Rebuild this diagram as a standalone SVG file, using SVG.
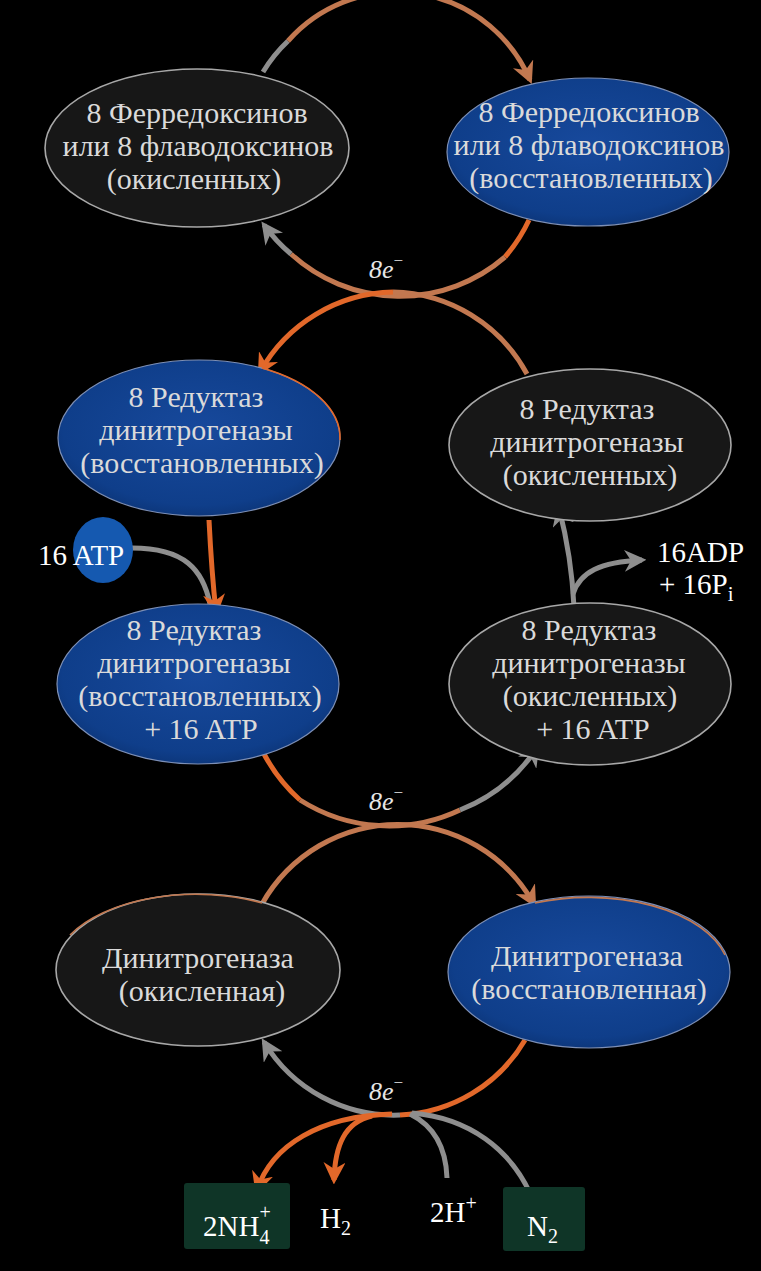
<svg xmlns="http://www.w3.org/2000/svg" width="761" height="1271" viewBox="0 0 761 1271">
<style>
.ell-dark{fill:#171717;stroke:#a8a8a8;stroke-width:1.6}
.ell-blue{fill:url(#blueG);stroke:#7d8fb5;stroke-width:1.2}
text{font-family:Liberation Serif,Times New Roman,DejaVu Serif,serif}
.t{font-size:30px;fill:#dadada;text-anchor:middle}
.lbl{font-size:29px;fill:#ffffff}
.e{font-size:26px;fill:#e6e6e6;font-style:italic}
.or{fill:none;stroke:#e2682a;stroke-width:5}
.br{fill:none;stroke:#c27850;stroke-width:5}
.gr{fill:none;stroke:#8e8e8e;stroke-width:5}
.box{fill:#0f3527}
</style>
<defs>
<radialGradient id="blueG" cx="0.5" cy="0.45" r="0.6">
<stop offset="0" stop-color="#17499c"/>
<stop offset="0.8" stop-color="#0f3e8a"/>
<stop offset="1" stop-color="#0b3272"/>
</radialGradient>
<marker id="aO" viewBox="0 0 10 10" refX="8" refY="5" markerWidth="4.4" markerHeight="4.4" orient="auto" markerUnits="strokeWidth">
<path d="M0,0 L10,5 L0,10 L3,5 z" fill="#e2682a"/>
</marker>
<marker id="aB" viewBox="0 0 10 10" refX="8" refY="5" markerWidth="4.4" markerHeight="4.4" orient="auto" markerUnits="strokeWidth">
<path d="M0,0 L10,5 L0,10 L3,5 z" fill="#c27850"/>
</marker>
<marker id="aG" viewBox="0 0 10 10" refX="8" refY="5" markerWidth="4.4" markerHeight="4.4" orient="auto" markerUnits="strokeWidth">
<path d="M0,0 L10,5 L0,10 L3,5 z" fill="#8e8e8e"/>
</marker>
</defs>
<rect x="0" y="0" width="761" height="1271" fill="#000"/>

<g id="connectors">
<path class="gr" d="M263,72 A145,145 0 0 1 288,41"/>
<path class="br" d="M288,41 A145,145 0 0 1 530,80" marker-end="url(#aB)"/>
<path class="or" d="M529,220 A161,161 0 0 1 505,257"/>
<path class="br" d="M505,257 A161,161 0 0 1 291,254"/>
<path class="gr" d="M291,254 A161,161 0 0 1 264,225" marker-end="url(#aG)"/>
<path class="br" d="M527,374 A156,156 0 0 0 393,292"/>
<path class="or" d="M393,292 A156,156 0 0 0 260,372" marker-end="url(#aO)"/>
<path class="gr" d="M132,548 C185,548 203,570 210,604"/>
<path class="or" d="M209,520 C211,560 213,585 216,612" marker-end="url(#aO)"/>
<path class="gr" d="M574,607 C572,565 566,535 559,508" marker-end="url(#aG)"/>
<path class="gr" d="M573,594 C580,572 600,562 642,560" marker-end="url(#aG)"/>
<path class="or" d="M263,752 A166,166 0 0 0 300,800"/>
<path class="br" d="M300,800 A166,166 0 0 0 460,810"/>
<path class="gr" d="M460,810 A166,166 0 0 0 537,748" marker-end="url(#aG)"/>
<path class="br" d="M262,904 A156,156 0 0 1 534,904" marker-end="url(#aB)"/>
<path class="or" d="M525,1040 A152,152 0 0 1 400,1115"/>
<path class="gr" d="M400,1115 A152,152 0 0 1 264,1042" marker-end="url(#aG)"/>
<path class="gr" d="M410,1114 C432,1125 446,1145 447,1178"/>
<path class="gr" d="M412,1113 C470,1118 510,1150 530,1193"/>
<path class="or" d="M392,1114 C320,1116 272,1145 257,1190" marker-end="url(#aO)"/>
<path class="or" d="M372,1116 C345,1122 335,1145 334,1180" marker-end="url(#aO)"/>
</g>

<g id="fd-ox">
<ellipse class="ell-dark" cx="197" cy="148" rx="152" ry="79"/>
<text class="t" x="197" y="123">8 Ферредоксинов</text>
<text class="t" x="198" y="156">или 8 флаводоксинов</text>
<text class="t" x="194" y="189">(окисленных)</text>
</g>
<g id="fd-red">
<ellipse class="ell-blue" cx="588" cy="152" rx="141" ry="74"/>
<text class="t" x="589" y="122">8 Ферредоксинов</text>
<text class="t" x="589" y="155">или 8 флаводоксинов</text>
<text class="t" x="591" y="188">(восстановленных)</text>
</g>
<g id="red-red">
<ellipse class="ell-blue" cx="199" cy="438" rx="141" ry="78"/>
<path d="M262,368 A141,78 0 0 1 340,440" fill="none" stroke="#e2682a" stroke-width="1.6"/>
<text class="t" x="196" y="407">8 Редуктаз</text>
<text class="t" x="196" y="440">динитрогеназы</text>
<text class="t" x="202" y="473">(восстановленных)</text>
</g>
<g id="red-ox">
<ellipse class="ell-dark" cx="590" cy="445" rx="141" ry="76"/>
<text class="t" x="587" y="419">8 Редуктаз</text>
<text class="t" x="587" y="452">динитрогеназы</text>
<text class="t" x="590" y="485">(окисленных)</text>
</g>
<g id="atp">
<ellipse cx="103" cy="550" rx="30" ry="33" fill="#1559b0"/>
<text class="lbl" x="38" y="565">16 ATP</text>
</g>
<g id="adp">
<text class="lbl" x="657" y="562">16ADP</text>
<text class="lbl" x="659" y="594">+ 16P<tspan font-size="21" dy="7">i</tspan></text>
</g>
<g id="red-red-atp">
<ellipse class="ell-blue" cx="198" cy="684" rx="141" ry="80"/>
<text class="t" x="194" y="640">8 Редуктаз</text>
<text class="t" x="194" y="673">динитрогеназы</text>
<text class="t" x="200" y="706">(восстановленных)</text>
<text class="t" x="201" y="739">+ 16 ATP</text>
</g>
<g id="red-ox-atp">
<ellipse class="ell-dark" cx="590" cy="684" rx="141" ry="81"/>
<text class="t" x="589" y="640">8 Редуктаз</text>
<text class="t" x="589" y="673">динитрогеназы</text>
<text class="t" x="590" y="706">(окисленных)</text>
<text class="t" x="593" y="739">+ 16 ATP</text>
</g>
<g id="dn-ox">
<ellipse class="ell-dark" cx="198" cy="970" rx="142" ry="76"/>
<path d="M70,935 A142,76 0 0 1 262,903" fill="none" stroke="#c27850" stroke-width="1.6"/>
<text class="t" x="198" y="968">Динитрогеназа</text>
<text class="t" x="202" y="1001">(окисленная)</text>
</g>
<g id="dn-red">
<ellipse class="ell-blue" cx="589" cy="972" rx="141" ry="76"/>
<path d="M535,903 A141,76 0 0 1 725,955" fill="none" stroke="#c27850" stroke-width="1.6"/>
<text class="t" x="587" y="966">Динитрогеназа</text>
<text class="t" x="589" y="999">(восстановленная)</text>
</g>
<g id="labels-e">
<text class="e" x="369" y="278">8e<tspan font-size="17" dy="-12" font-style="normal">−</tspan></text>
<text class="e" x="369" y="810">8e<tspan font-size="17" dy="-12" font-style="normal">−</tspan></text>
<text class="e" x="369" y="1100">8e<tspan font-size="17" dy="-12" font-style="normal">−</tspan></text>
</g>
<g id="nh4">
<rect class="box" x="184" y="1183" width="106" height="66" rx="3"/>
<text class="lbl" x="203" y="1236" fill="#d8e4dc">2NH<tspan font-size="20" dy="8">4</tspan><tspan font-size="20" dx="-10" dy="-25">+</tspan></text>
</g>
<g id="h2">
<text class="lbl" x="320" y="1228">H<tspan font-size="20" dy="7">2</tspan></text>
</g>
<g id="h">
<text class="lbl" x="430" y="1222">2H<tspan font-size="20" dy="-12">+</tspan></text>
</g>
<g id="n2">
<rect class="box" x="503" y="1187" width="82" height="64" rx="3"/>
<text class="lbl" x="527" y="1236" fill="#d8e4dc">N<tspan font-size="20" dy="7">2</tspan></text>
</g>
</svg>
